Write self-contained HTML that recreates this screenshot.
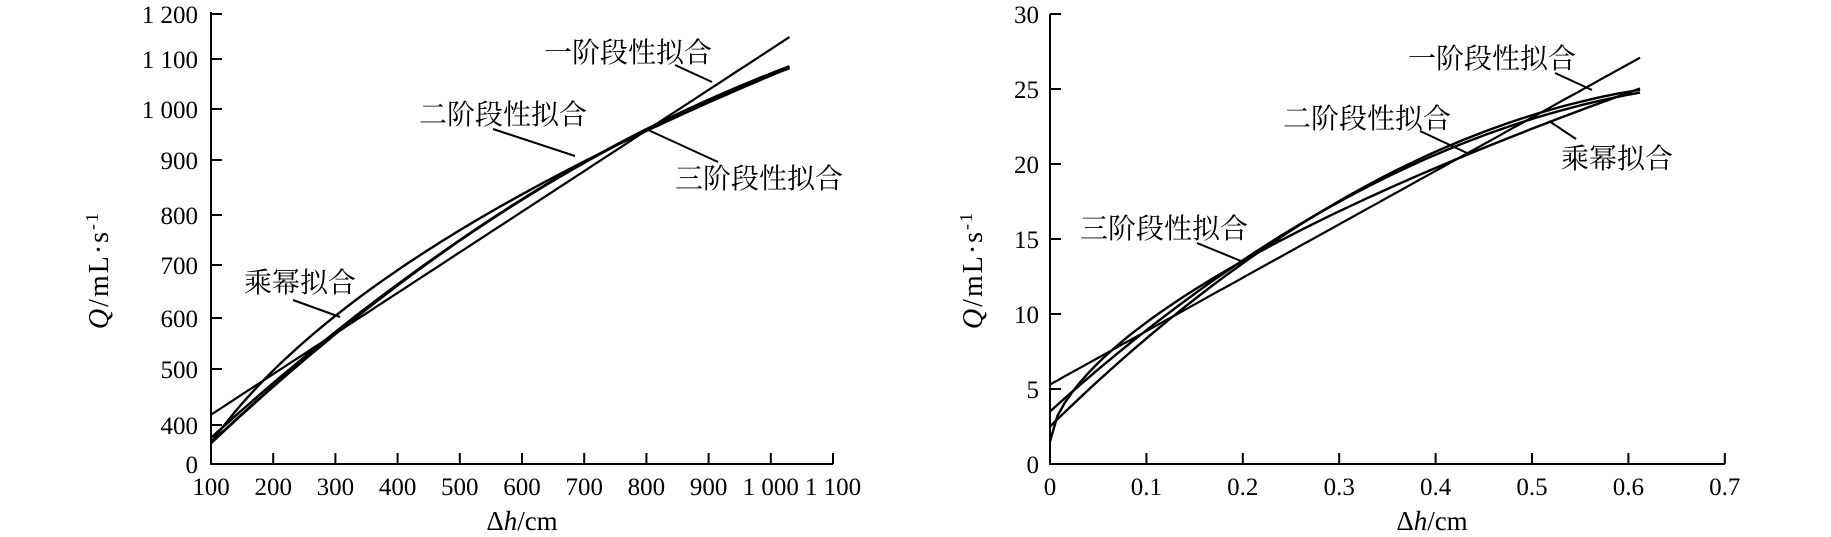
<!DOCTYPE html>
<html><head><meta charset="utf-8"><style>
html,body{margin:0;padding:0;background:#fff;}
svg text{font-family:"Liberation Serif","Noto Serif CJK SC",serif;fill:#000;}
</style></head><body>
<svg id="s" width="1831" height="532" xmlns="http://www.w3.org/2000/svg">
<g stroke="#000" stroke-width="2" fill="none">
<path d="M211,12 V464 H833"/>
<path d="M1050,14 V464 H1725"/>
</g>
<g id="g" stroke="#000" fill="none"></g>
<g font-size="25" text-anchor="end" id="lab"></g>
<g font-size="28" font-family="'Noto Sans CJK SC',sans-serif">
<text x="544" y="62">一阶段性拟合</text>
<text x="419" y="124">二阶段性拟合</text>
<text x="675" y="188">三阶段性拟合</text>
<text x="244" y="292">乘幂拟合</text>
<text x="1408" y="68">一阶段性拟合</text>
<text x="1283" y="128">二阶段性拟合</text>
<text x="1561" y="168">乘幂拟合</text>
<text x="1080" y="238">三阶段性拟合</text>
</g>
<g stroke="#000" stroke-width="2">
<line x1="675" y1="65" x2="712" y2="82"/>
<line x1="493" y1="129" x2="575" y2="156"/>
<line x1="646" y1="129" x2="718" y2="162"/>
<line x1="293" y1="300" x2="340" y2="317"/>
<line x1="1555" y1="73" x2="1592" y2="90"/>
<line x1="1420" y1="131" x2="1467" y2="153"/>
<line x1="1549" y1="121" x2="1576" y2="139"/>
<line x1="1197" y1="243" x2="1241" y2="261"/>
</g>
<text x="522" y="530" font-size="27" text-anchor="middle">Δ<tspan font-style="italic">h</tspan>/cm</text>
<text x="1432" y="530" font-size="27" text-anchor="middle">Δ<tspan font-style="italic">h</tspan>/cm</text>
<text transform="translate(108,270) rotate(-90)" font-size="28" letter-spacing="2" text-anchor="middle"><tspan font-style="italic">Q</tspan>/mL·s<tspan dy="-10" font-size="18">-1</tspan></text>
<text transform="translate(982,270) rotate(-90)" font-size="28" letter-spacing="2" text-anchor="middle"><tspan font-style="italic">Q</tspan>/mL·s<tspan dy="-10" font-size="18">-1</tspan></text>
</svg>
<script>
var NS="http://www.w3.org/2000/svg",g=document.getElementById('g'),lab=document.getElementById('lab');
function el(t,a,p,txt){var e=document.createElementNS(NS,t);for(var k in a)e.setAttribute(k,a[k]);if(txt!==undefined)e.textContent=txt;(p||g).appendChild(e);return e;}
function LX(v){return 211+(v-100)*0.622;} function LY(q){return 425-(q-400)*0.514;}
var ly=[[0,464],[400,425],[500,369],[600,318],[700,265],[800,215],[900,160],[1000,109],[1100,59],[1200,14]];
ly.forEach(function(t){var s=t[0]>=1000?(Math.floor(t[0]/1000)+" "+String(t[0]%1000).padStart(3,"0")):String(t[0]);
el('line',{x1:211,x2:222,y1:t[1],y2:t[1],'stroke-width':2});el('text',{x:198,y:t[1]+9},lab,s);});
for(var v=100;v<=1100;v+=100){var x=LX(v);if(v>100)el('line',{x1:x,x2:x,y1:464,y2:453,'stroke-width':2});
var s=v>=1000?("1 "+String(v%1000).padStart(3,"0")):String(v);el('text',{x:x,y:495,'text-anchor':'middle'},lab,s);}
function curve(f,a,b,sx,sy,w){var d="";for(var i=0;i<=80;i++){var h=a+(b-a)*i/80;d+=(i?"L":"M")+sx(h).toFixed(1)+","+sy(f(h)).toFixed(1);}el('path',{d:d,'stroke-width':w});}
curve(function(h){return 420+(h-100)*0.790;},100,1030,LX,LY,2.2);
curve(function(h){var d=h-100;return 365+1.137*d-0.000379*d*d;},100,1030,LX,LY,2.8);
curve(function(h){var d=h-100;return 375+1.10*d-0.000347*d*d;},100,1030,LX,LY,2.4);
curve(function(h){return 365*Math.pow(h/100,0.471);},100,1030,LX,LY,2.4);
function RX(v){return 1050+v*964;} function RY(q){return 464-q*15;}
for(var q=0;q<=30;q+=5){var y=RY(q);el('line',{x1:1050,x2:1061,y1:y,y2:y,'stroke-width':2});el('text',{x:1039,y:y+9},lab,String(q));}
for(var i=0;i<=7;i++){var x=RX(i/10);if(i)el('line',{x1:x,x2:x,y1:464,y2:453,'stroke-width':2});el('text',{x:x,y:495,'text-anchor':'middle'},lab,i?("0."+i):"0");}
curve(function(h){return 5.3+h*35.6;},0,0.612,RX,RY,2.2);
curve(function(h){return 2.5+63*h-43*h*h;},0,0.612,RX,RY,2.4);
curve(function(h){return 3.5+58*h-38*h*h;},0,0.612,RX,RY,2.4);
curve(function(h){return 1.5+31.6*Math.pow(Math.max(h,1e-6),0.6);},0.0,0.612,RX,RY,2.4);
</script>
</body></html>
